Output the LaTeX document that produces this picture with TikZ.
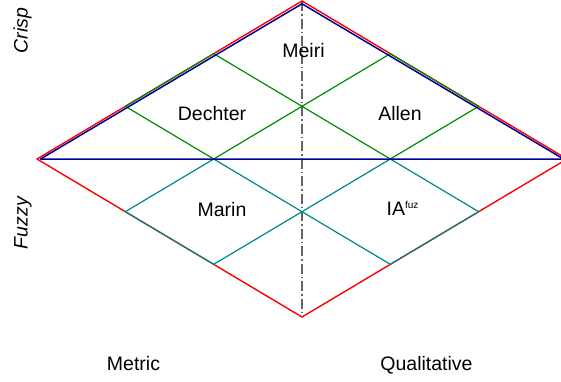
\documentclass[tikz,border=0pt]{standalone}
\usepackage{fontspec}
\setmainfont{Liberation Sans}
\begin{document}
\definecolor{edgered}{RGB}{255,0,0}
\definecolor{crispblue}{RGB}{0,0,150}
\definecolor{crispgreen}{RGB}{0,140,0}
\definecolor{fuzzyteal}{RGB}{0,135,135}
\definecolor{axisgray}{RGB}{100,100,100}
\begin{tikzpicture}[x=1pt,y=-1pt,
  line join=round,
  outline/.style={draw=edgered,line width=1.4pt},
  crispline/.style={draw=crispblue,line width=1.5pt},
  crispcell/.style={draw=crispgreen,line width=1.2pt},
  fuzzycell/.style={draw=fuzzyteal,line width=1.2pt},
  axisline/.style={draw=axisgray,line width=1.2pt,dash pattern=on 10pt off 3pt on 1.5pt off 3pt},
  lbl/.style={font=\fontsize{19.5}{23}\selectfont,anchor=base,inner sep=0pt},
  sidelbl/.style={font=\fontsize{19.5}{23}\selectfont\itshape,anchor=base,inner sep=0pt,rotate=90}]
\clip (0,0) rectangle (561,381);
% outer diamond corners
\coordinate (L) at (37,159);
\coordinate (T) at (302,1);
\coordinate (R) at (567,159);
\coordinate (B) at (302,317);
% crisp triangle, slightly inset
\coordinate (bL) at (40.5,159);
\coordinate (bT) at (302,3.8);
\coordinate (bR) at (563.5,159);
% grid points (thirds of the diamond)
\coordinate (u1) at (125.3,106.3);
\coordinate (u2) at (213.7,53.7);
\coordinate (u3) at (390.3,53.7);
\coordinate (u4) at (478.7,106.3);
\coordinate (m1) at (213.7,159);
\coordinate (m2) at (390.3,159);
\coordinate (c1) at (302,106.3);
\coordinate (c2) at (302,211.7);
\coordinate (d1) at (125.3,211.7);
\coordinate (d2) at (213.7,264.3);
\coordinate (d3) at (390.3,264.3);
\coordinate (d4) at (478.7,211.7);
% vertical axis
\draw[axisline] (T) -- (B);
% outer boundary
\draw[outline] (L) -- (T) -- (R) -- (B) -- cycle;
% crisp cells
\draw[crispcell] (u1) -- (u2) -- (c1) -- (m1) -- cycle;
\draw[crispcell] (c1) -- (u3) -- (u4) -- (m2) -- cycle;
% fuzzy cells
\draw[fuzzycell] (d1) -- (m1) -- (c2) -- (d2) -- cycle;
\draw[fuzzycell] (c2) -- (m2) -- (d4) -- (d3) -- cycle;
% crisp region
\draw[crispline] (bL) -- (bT) -- (bR) -- cycle;
% labels
\node[lbl] (meiri) at (303.5,57) {Meiri};
\node[lbl] (dechter) at (212,120) {Dechter};
\node[lbl] (allen) at (400,120) {Allen};
\node[lbl] (marin) at (222,216) {Marin};
\node[lbl] (iafuz) at (402.5,215) {IA\raisebox{7pt}{\fontsize{10}{10}\selectfont fuz}};
\node[lbl] (metric) at (133.5,370) {Metric};
\node[lbl] (qual) at (426.5,370) {Qualitative};
\node[sidelbl] (crisp) at (27.5,30.5) {Crisp};
\node[sidelbl] (fuzzy) at (27.5,223) {Fuzzy};
\end{tikzpicture}
\end{document}
